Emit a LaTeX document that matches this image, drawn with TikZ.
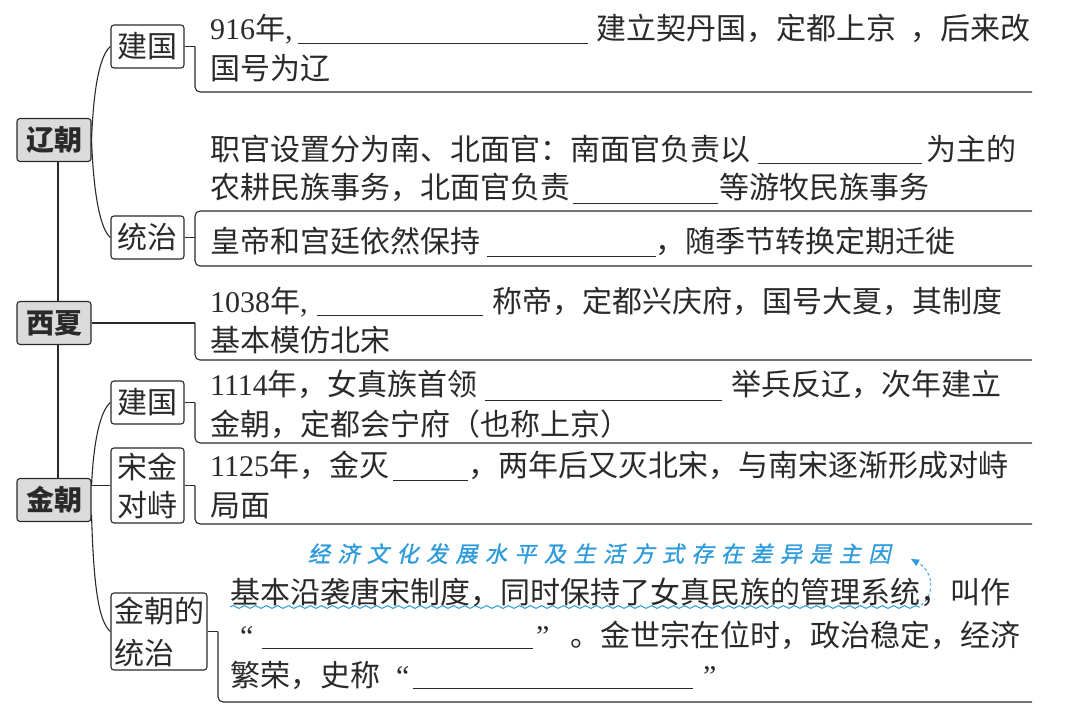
\documentclass[tikz,border=0pt]{standalone}
\usepackage{fontspec}
\setmainfont{Noto Sans CJK SC}
\newfontfamily\lat{Liberation Serif}
\newfontfamily\hand[FakeSlant=0.22,FakeBold=1.2]{Noto Sans CJK SC}
\usetikzlibrary{decorations.pathmorphing,arrows.meta}
\definecolor{annot}{HTML}{2E9BDA}
\definecolor{ink}{HTML}{2A2A2A}
\newcommand\fs{\fontsize{30}{36}\selectfont}
\def\spreadchars#1{\spreadA#1\relax}
\def\spreadA#1{\ifx#1\relax\else\makebox[29.5pt]{#1}\expandafter\spreadA\fi}
\begin{document}
\begin{tikzpicture}[x=1pt,y=-1pt,
  ln/.style={draw=ink, line width=1.1pt},
  bl/.style={draw=ink, line width=1pt},
  mainbox/.style={draw=ink, line width=1.1pt, fill=black!14, rounded corners=3pt, font=\fontsize{28}{30}\selectfont\bfseries, minimum width=74pt, minimum height=43pt, inner sep=0, text=ink},
  subbox/.style={draw=ink, line width=1.1pt, rounded corners=3pt, font=\fs, inner sep=0, minimum width=73pt, minimum height=43pt, text=ink},
  txt/.style={anchor=base west, inner sep=0, font=\fs, text=ink}]
\useasboundingbox (0,0) rectangle (1065,708);
% main labels
\node[mainbox] (liao) at (54,140) {辽朝};
\node[mainbox] (xia) at (54,323) {西夏};
\node[mainbox] (jin) at (54,500) {金朝};
% sub labels
\node[subbox] (jg1) at (147.5,46.5) {建国};
\node[subbox] (tz1) at (147.5,237.5) {统治};
\node[subbox] (jg2) at (147.5,402.5) {建国};
\node[subbox, minimum height=75pt, align=center, font=\fontsize{30}{38}\selectfont] (sj) at (147.5,485.5) {宋金\\对峙};
\node[subbox, minimum width=96pt, minimum height=77pt, align=left, font=\fontsize{30}{42}\selectfont] (jt) at (159,631.5) {金朝的\\统治};
% trunk
\draw[ln] ([xshift=4pt]liao.south) -- ([xshift=4pt]xia.north);
\draw[ln] ([xshift=4pt]xia.south) -- ([xshift=4pt]jin.north);
% branches
\draw[ln] (liao.east) .. controls +(2,-55) and +(-10,8) .. (jg1.west);
\draw[ln] (liao.east) .. controls +(2,55) and +(-10,-8) .. (tz1.west);
\draw[ln] (jin.east |- sj.west) -- (sj.west);
\draw[ln] (jin.east |- sj.west) .. controls +(2,-45) and +(-10,8) .. (jg2.west);
\draw[ln] ([yshift=-15pt]jin.east) .. controls +(2,70) and +(-12,-10) .. (jt.west);
% brackets
\coordinate (b1) at (195,46.5);   \coordinate (e1) at (1032,92);
\coordinate (b2) at (195,237.5);  \coordinate (e2a) at (1032,211); \coordinate (e2b) at (1032,266);
\coordinate (b3) at (195,323);    \coordinate (e3) at (1032,360);
\coordinate (b4) at (195,402.5);  \coordinate (e4) at (1032,443);
\coordinate (b5) at (195,485.5);  \coordinate (e5) at (1032,524);
\coordinate (b6) at (218,631.5);  \coordinate (e6) at (1032,702);
\draw[ln] (jg1.east) -- (b1);
\draw[ln, rounded corners=5pt] (b1) |- (e1);
\draw[ln] (tz1.east) -- (b2);
\draw[ln, rounded corners=5pt] (e2a) -| (b2) |- (e2b);
\draw[ln] (xia.east) -- (b3);
\draw[ln, rounded corners=5pt] (b3) |- (e3);
\draw[ln] (jg2.east) -- (b4);
\draw[ln, rounded corners=5pt] (b4) |- (e4);
\draw[ln] (sj.east) -- (b5);
\draw[ln, rounded corners=5pt] (b5) |- (e5);
\draw[ln] (jt.east) -- (b6);
\draw[ln, rounded corners=5pt] (b6) |- (e6);
% texts: Liao jianguo
\node[txt] (t1) at (210,40) {{\lat 916}年{\lat ,}};
\draw[bl] (298,44) -- (588,44);
\node[txt] (t2) at (596,40) {建立契丹国，定都上京};
\node[txt] (t3) at (910,40) {，后来改};
\node[txt] (t4) at (210,80) {国号为辽};
% Liao tongzhi
\node[txt] (t5) at (210,161) {职官设置分为南、北面官：南面官负责以};
\draw[bl] (758,164) -- (922,164);
\node[txt] (t6) at (926,161) {为主的};
\node[txt] (t7) at (210,199) {农耕民族事务，北面官负责};
\draw[bl] (573,204) -- (718,204);
\node[txt] (t8) at (719,199) {等游牧民族事务};
\node[txt] (t9) at (210,253) {皇帝和宫廷依然保持};
\draw[bl] (487,257) -- (656,257);
\node[txt] (t10) at (655,253) {，随季节转换定期迁徙};
% Xixia
\node[txt] (t11) at (210,313) {{\lat 1038}年{\lat ,}};
\draw[bl] (317,316) -- (483,316);
\node[txt] (t12) at (492,313) {称帝，定都兴庆府，国号大夏，其制度};
\node[txt] (t13) at (210,352) {基本模仿北宋};
% Jin jianguo
\node[txt] (t14) at (210,395) {{\lat 1114}年，女真族首领};
\draw[bl] (485,400) -- (722,400);
\node[txt] (t15) at (731,395) {举兵反辽，次年建立};
\node[txt] (t16) at (210,435) {金朝，定都会宁府（也称上京）};
% Song-Jin
\node[txt] (t17) at (210,476) {{\lat 1125}年，金灭};
\draw[bl] (393,480) -- (468,480);
\node[txt] (t18) at (468,476) {，两年后又灭北宋，与南宋逐渐形成对峙};
\node[txt] (t19) at (210,516) {局面};
% annotation
\node[anchor=base west, inner sep=0, text=annot, font=\hand\fontsize{22}{24}\selectfont] (ann) at (304,562) {\spreadchars{经济文化发展水平及生活方式存在差异是主因}};
\coordinate (w1) at (230,607); \coordinate (w2) at (920,607);
\coordinate (a1) at (921,605); \coordinate (a2) at (911,559);
\draw[draw=annot, line width=1pt, decorate, decoration={snake, segment length=11pt, amplitude=1.4pt}] (w1) -- (w2);
\draw[draw=annot, line width=0.9pt, dash pattern=on 3pt off 2.5pt, -{Triangle[length=8pt,width=7pt,fill=annot]}] (a1) .. controls (934,597) and (935,572) .. (a2);
% Jin tongzhi
\node[txt] (t20) at (230,603) {基本沿袭唐宋制度，同时保持了女真民族的管理系统，叫作};
\node[txt, font=\lat\fontsize{30}{36}\selectfont] (t21) at (240,646) {“};
\draw[bl] (262,648) -- (533,648);
\node[txt, font=\lat\fontsize{30}{36}\selectfont] (t22) at (536,646) {”};
\node[txt] (t23) at (570,646) {。金世宗在位时，政治稳定，经济};
\node[txt] (t24) at (230,686) {繁荣，史称};
\node[txt, font=\lat\fontsize{30}{36}\selectfont] (t25) at (396,686) {“};
\draw[bl] (413,688) -- (693,688);
\node[txt, font=\lat\fontsize{30}{36}\selectfont] (t26) at (703,686) {”};
\end{tikzpicture}
\end{document}
